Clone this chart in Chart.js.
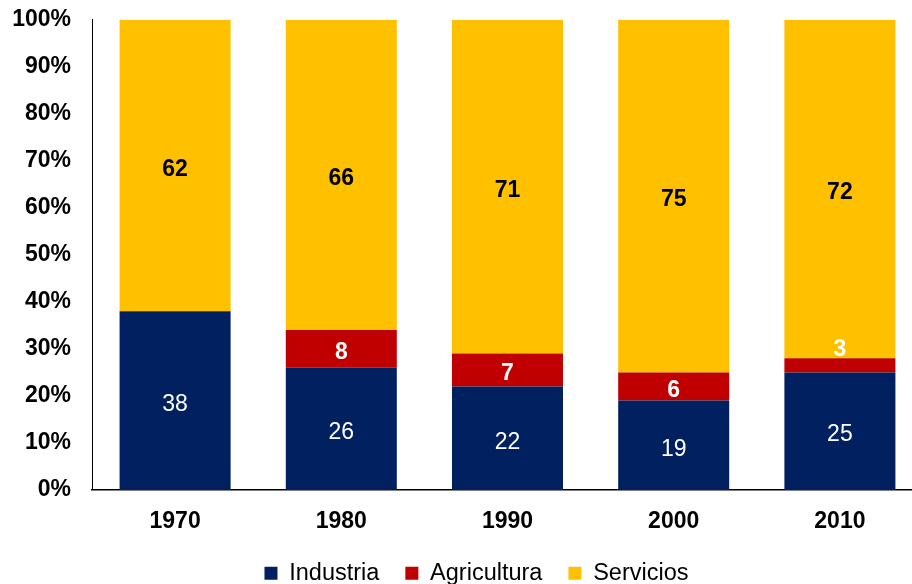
<!DOCTYPE html>
<html>
<head>
<meta charset="utf-8">
<script src="https://cdn.jsdelivr.net/npm/chart.js@4"></script>
<style>
    html, body { margin: 0; padding: 0; background: #fff; overflow: hidden; }
    #wrap { position: absolute; left: 0; top: -15px; width: 952px; height: 610px; }
</style>
</head>
<body>
<div id="wrap"><canvas id="sectorChart"></canvas></div>
<script>
const years = ['1970', '1980', '1990', '2000', '2010'];
const industria = [38, 26, 22, 19, 25];
const agricultura = [0, 8, 7, 6, 3];
const servicios = [62, 66, 71, 75, 72];
const yTicks = [0, 10, 20, 30, 40, 50, 60, 70, 80, 90, 100];

const FONT = 'Arial, "Liberation Sans", sans-serif';

// labels in the middle of each segment, pushed above if the segment is too thin
const segmentLabels = {
    id: 'segmentLabels',
    afterDatasetsDraw(chart) {
        const ctx = chart.ctx;
        ctx.save();
        ctx.textAlign = 'center';
        ctx.textBaseline = 'middle';
        chart.data.datasets.forEach((ds, i) => {
            const meta = chart.getDatasetMeta(i);
            meta.data.forEach((bar, j) => {
                const v = ds.data[j];
                if (!v) return;
                const h = Math.abs(bar.base - bar.y);
                let y = (bar.y + bar.base) / 2 + 4;
                if (h < 22) y = bar.y - 9;
                ctx.font = ds.labelFont;
                ctx.fillStyle = ds.labelColor;
                ctx.fillText(String(v), bar.x, y);
            });
        });
        ctx.restore();
    }
};

// nudge the legend a bit to the right, like the original
const legendShift = {
    id: 'legendShift',
    afterLayout(chart) {
        if (chart.legend) {
            chart.legend.left += 15;
            chart.legend.right += 15;
        }
    }
};

const canvas = document.getElementById('sectorChart');

new Chart(canvas, {
    type: 'bar',
    data: {
        labels: years,
        datasets: [
            {
                label: 'Industria',
                data: industria,
                backgroundColor: '#002060',
                labelColor: '#ffffff',
                labelFont: '23px ' + FONT,
            },
            {
                label: 'Agricultura',
                data: agricultura,
                backgroundColor: '#C00000',
                labelColor: '#ffffff',
                labelFont: 'bold 23px ' + FONT,
            },
            {
                label: 'Servicios',
                data: servicios,
                backgroundColor: '#FFC000',
                labelColor: '#000000',
                labelFont: 'bold 23px ' + FONT,
            }
        ]
    },
    options: {
        responsive: true,
        maintainAspectRatio: false,
        animation: false,
        barPercentage: 0.668,
        categoryPercentage: 1,
        layout: { padding: { top: 6, right: 29, left: 0, bottom: 0 } },
        plugins: {
            legend: {
                position: 'bottom',
                labels: {
                    boxWidth: 13,
                    boxHeight: 13,
                    padding: 26,
                    color: '#000',
                    font: { family: FONT, size: 23.5 }
                }
            },
            tooltip: { enabled: false }
        },
        scales: {
            x: {
                stacked: true,
                afterFit(scale) { scale.height -= 18; },
                grid: { display: false, drawTicks: false },
                border: { display: true, color: '#000', width: 1.5 },
                ticks: {
                    color: '#000',
                    padding: 18,
                    font: { family: FONT, size: 23, weight: 'bold' }
                }
            },
            y: {
                stacked: true,
                min: 0,
                max: 100,
                afterFit(scale) { scale.width = 92; },
                afterBuildTicks(scale) { scale.ticks = yTicks.map(v => ({ value: v })); },
                grid: { display: false, drawTicks: false },
                border: { display: true, color: '#000', width: 1 },
                ticks: {
                    color: '#000',
                    padding: 21,
                    font: { family: FONT, size: 23, weight: 'bold' },
                    callback: v => v + '%'
                }
            }
        }
    },
    plugins: [segmentLabels, legendShift]
});
</script>
</body>
</html>
